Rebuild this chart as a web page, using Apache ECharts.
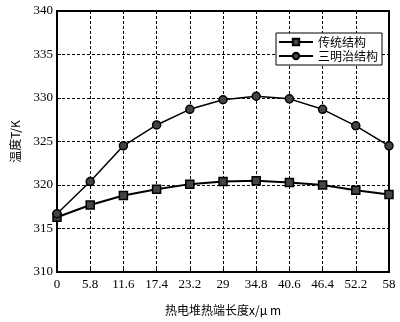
<!DOCTYPE html>
<html><head><meta charset="utf-8">
<script src="https://cdn.jsdelivr.net/npm/echarts@6/dist/echarts.min.js"></script>
<style>html,body{margin:0;padding:0;background:#fff}#c{width:400px;height:322px}</style>
</head><body><div id="c"></div>
<script>
const categories = ['0','5.8','11.6','17.4','23.2','29','34.8','40.6','46.4','52.2','58'];
const traditional = [316.3,317.7,318.8,319.5,320.1,320.4,320.5,320.3,320.0,319.4,318.9];
const sandwich = [316.7,320.4,324.5,326.9,328.7,329.8,330.2,329.9,328.7,326.8,324.5];
const seriesNames = ['传统结构','三明治结构'];
const yTicks = {min:310,max:340,interval:5};

const chart = echarts.init(document.getElementById('c'));
const fontNum = 'Liberation Serif, DejaVu Serif, serif';
const fontCJK = 'Noto Sans CJK SC, serif';
const dotted = {show:true,lineStyle:{color:'#000',type:[3,2],width:1}};
chart.setOption({
  animation:false,
  backgroundColor:'#fff',
  grid:{left:57,right:11,top:11,bottom:50,show:true,borderColor:'#000',borderWidth:2},
  legend:{
    orient:'vertical',left:276,top:33,
    itemWidth:34,itemHeight:8,itemGap:2,
    padding:[3,4,3,2],
    borderColor:'#000',borderWidth:1,backgroundColor:'#fff',
    textStyle:{fontFamily:fontCJK,fontSize:12,color:'#000'},
    data:seriesNames
  },
  xAxis:{
    type:'category',data:categories,boundaryGap:false,
    name:'热电堆热端长度x/μ m',nameLocation:'middle',nameGap:32,
    nameTextStyle:{fontFamily:fontCJK,fontSize:12,color:'#000'},
    axisLine:{lineStyle:{color:'#000',width:2}},
    axisTick:{show:true,inside:true,length:4,lineStyle:{color:'#000'}},
    axisLabel:{fontFamily:fontNum,fontSize:13,color:'#000',margin:6},
    splitLine:dotted
  },
  yAxis:{
    type:'value',min:yTicks.min,max:yTicks.max,interval:yTicks.interval,
    name:'温度T/K',nameLocation:'middle',nameGap:36,
    nameTextStyle:{fontFamily:fontCJK,fontSize:12,color:'#000'},
    axisLine:{show:true,lineStyle:{color:'#000',width:2}},
    axisTick:{show:true,inside:true,length:4,lineStyle:{color:'#000'}},
    axisLabel:{fontFamily:fontNum,fontSize:13,color:'#000',margin:4},
    splitLine:dotted
  },
  series:[
    {name:seriesNames[0],type:'line',data:traditional,symbol:'rect',symbolSize:8,
     lineStyle:{color:'#000',width:2},itemStyle:{color:'#444',borderColor:'#000',borderWidth:1.5}},
    {name:seriesNames[1],type:'line',data:sandwich,symbol:'circle',symbolSize:8,
     lineStyle:{color:'#000',width:1.5},itemStyle:{color:'#444',borderColor:'#000',borderWidth:1.5}}
  ]
});
</script></body></html>
